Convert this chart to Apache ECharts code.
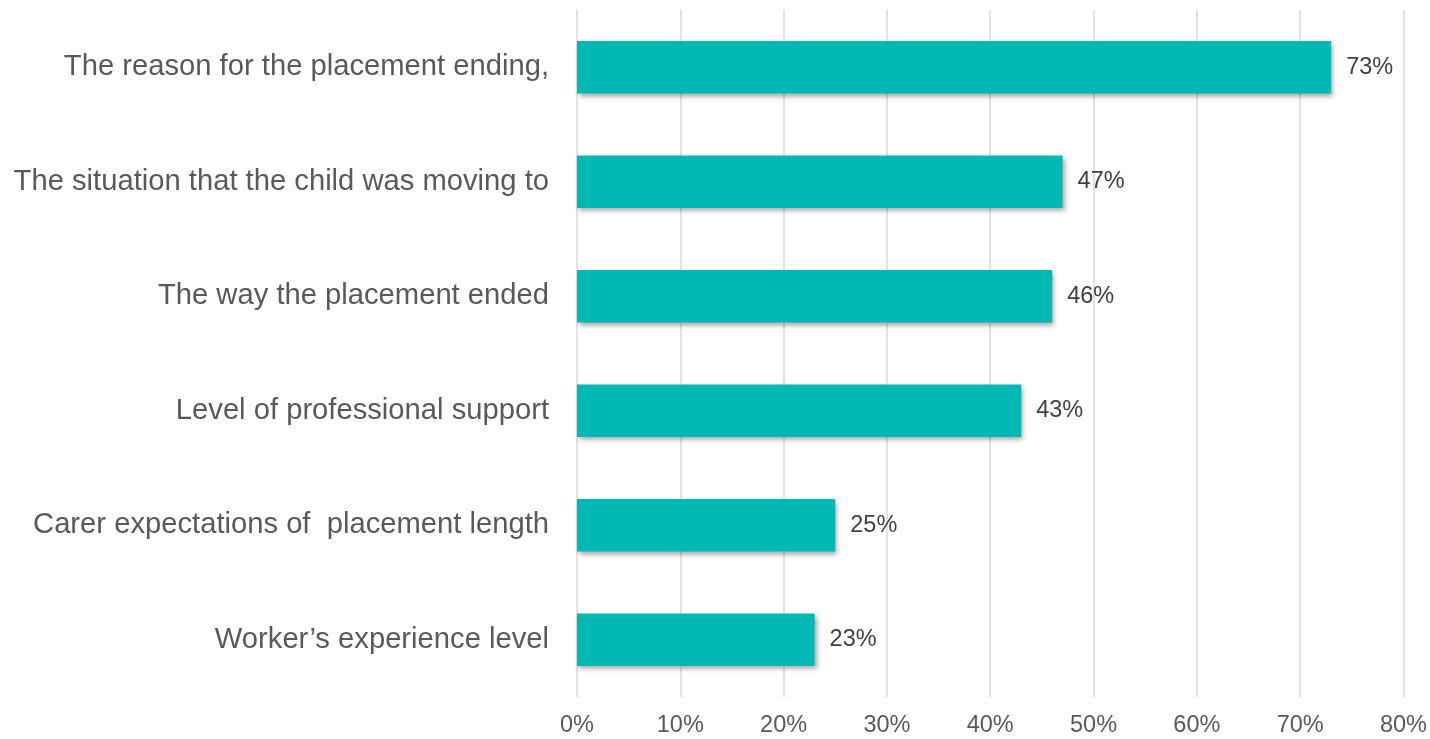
<!DOCTYPE html>
<html>
<head>
<meta charset="utf-8">
<script src="https://cdn.jsdelivr.net/npm/echarts@6/dist/echarts.min.js"></script>
<style>html,body{margin:0;padding:0;background:#fff}#c{width:1430px;height:739px}</style>
</head>
<body>
<div id="c"></div>
<script>
const categories = [
  "Worker\u2019s experience level",
  "Carer expectations of  placement length",
  "Level of professional support",
  "The way the placement ended",
  "The situation that the child was moving to",
  "The reason for the placement ending,"
];
const values = [23, 25, 43, 46, 47, 73];
const xTicks = { min: 0, max: 80, interval: 10 };

const chart = echarts.init(document.getElementById('c'));
chart.setOption({
  animation: false,
  grid: { left: 577, right: 25, top: 10, bottom: 42, containLabel: false },
  xAxis: {
    type: 'value', min: xTicks.min, max: xTicks.max, interval: xTicks.interval,
    axisLine: { show: false }, axisTick: { show: false },
    splitLine: { show: true, lineStyle: { color: '#d9d9d9', width: 1.5 } },
    axisLabel: { formatter: '{value}%', color: '#595959', fontSize: 23.5, fontFamily: 'Liberation Sans, Arial, sans-serif', margin: 17 }
  },
  yAxis: {
    type: 'category', data: categories,
    axisLine: { show: false }, axisTick: { show: false },
    axisLabel: { color: '#595959', fontSize: 29.2, fontFamily: 'Liberation Sans, Arial, sans-serif', margin: 28 }
  },
  series: [{
    type: 'bar', data: values, barCategoryGap: '54%',
    itemStyle: { color: '#00B9B5', shadowColor: 'rgba(0,0,0,0.35)', shadowBlur: 5, shadowOffsetX: 2, shadowOffsetY: 3 },
    label: { show: true, position: 'right', distance: 15, formatter: '{c}%', color: '#404040', fontSize: 23.5, fontFamily: 'Liberation Sans, Arial, sans-serif' }
  }]
});
</script>
</body>
</html>
